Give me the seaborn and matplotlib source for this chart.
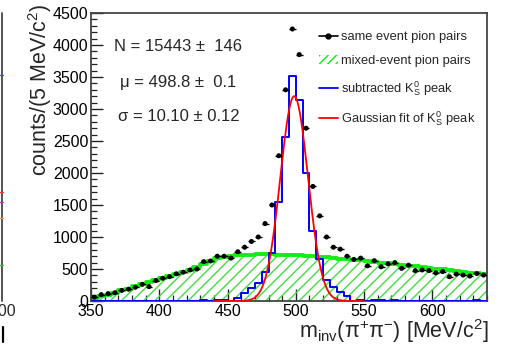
import numpy as np
import pandas as pd
import matplotlib
matplotlib.use("Agg")
import matplotlib.pyplot as plt
import seaborn as sns
from matplotlib.lines import Line2D
from matplotlib.patches import Patch
from matplotlib.ticker import MultipleLocator

# ---------------- data ----------------
bin_lo, bin_hi, bin_w = 350, 640, 5

same_event = [60, 100, 115, 130, 165, 185, 215, 260, 225, 320,
              355, 380, 425, 450, 485, 500, 615, 625, 700, 700,
              670, 770, 840, 930, 1000, 1210, 1500, 2270, 3300, 4250,
              3850, 2700, 1790, 1330, 1000, 840, 810, 700, 650, 670,
              550, 630, 535, 580, 600, 510, 560, 475, 485, 475,
              440, 460, 380, 420, 405, 390, 430, 405]

mixed_event = [45, 75, 100, 130, 165, 195, 230, 265, 295, 325,
               355, 385, 415, 450, 485, 530, 580, 630, 670, 695,
               705, 715, 720, 725, 728, 730, 728, 725, 722, 718,
               712, 705, 698, 690, 682, 673, 664, 655, 645, 635,
               624, 613, 600, 588, 577, 565, 553, 541, 529, 517,
               505, 493, 481, 469, 457, 445, 433, 421]

subtracted = [0, 0, 0, 0, 0, 0, 0, 0, 0, 0,
              0, 0, 0, 0, 0, 0, 15, 0, 20, 10,
              0, 45, 120, 200, 276, 458, 755, 1550, 2570, 3520,
              3140, 1995, 1100, 656, 328, 224, 146, 78, 0, 20,
              0, 20, 15, 0, 15, 0, 0, 0, 0, 0,
              0, 0, 0, 0, 0, 0, 15, 0]

fit_mu, fit_sigma, fit_peak = 498.8, 10.10, 3200
fit_lo, fit_hi = 440, 550

x_ticks = [350, 400, 450, 500, 550, 600]
y_ticks = [0, 500, 1000, 1500, 2000, 2500, 3000, 3500, 4000, 4500]

fit_texts = ["N = 15443 \u00b1  146", "\u03bc = 498.8 \u00b1  0.1", "\u03c3 = 10.10 \u00b1 0.12"]
legend_labels = ["same event pion pairs", "mixed-event pion pairs",
                 r"subtracted K$_{\rm S}^{0}$ peak", r"Gaussian fit of K$_{\rm S}^{0}$ peak"]

# ---------------- style ----------------
sns.set_theme(style="ticks")
plt.rcParams["font.family"] = ["Liberation Sans", "DejaVu Sans"]
plt.rcParams["mathtext.fontset"] = "custom"
plt.rcParams["mathtext.rm"] = "Liberation Sans"
plt.rcParams["mathtext.it"] = "Liberation Sans:italic"
plt.rcParams["mathtext.bf"] = "Liberation Sans:bold"
plt.rcParams["hatch.linewidth"] = 1.0

W, H = 512, 347
fig = plt.figure(figsize=(W / 100, H / 100), dpi=100)
ax = fig.add_axes([91 / W, 1 - 301 / H, (487 - 91) / W, (301 - 13) / H])

edges = np.arange(bin_lo, bin_hi + bin_w, bin_w)
centers = edges[:-1] + bin_w / 2
df = pd.DataFrame({"m": centers, "same": same_event,
                   "mixed": mixed_event, "sub": subtracted})

green_line = "#11ee11"
green_hatch = "#44dd44"

# mixed-event: hatched fill + thick top line
ax.stairs(df["mixed"].to_numpy(), edges, fill=True, facecolor="none",
          edgecolor=green_hatch, hatch="///", linewidth=0, zorder=1)
sns.histplot(data=df, x="m", weights="mixed", binwidth=bin_w,
             binrange=(bin_lo, bin_hi), element="step",
             fill=False, color=green_line, linewidth=2.8, ax=ax, zorder=2)

# subtracted peak
sns.histplot(data=df, x="m", weights="sub", binwidth=bin_w,
             binrange=(bin_lo, bin_hi), element="step",
             fill=False, color="#0000ff", linewidth=1.4, ax=ax, zorder=3)

# gaussian fit
xf = np.linspace(fit_lo, fit_hi, 400)
yf = fit_peak * np.exp(-0.5 * ((xf - fit_mu) / fit_sigma) ** 2)
sns.lineplot(x=xf, y=yf, color="#ff0000", linewidth=1.3, ax=ax, zorder=4)

# same-event points
ax.errorbar(df["m"], df["same"], xerr=bin_w / 2, fmt="none",
            ecolor="black", elinewidth=1.0, zorder=5)
sns.scatterplot(data=df, x="m", y="same", color="black", s=13,
                edgecolor="none", ax=ax, zorder=6)

# ---------------- axes ----------------
ax.set_xlim(bin_lo, bin_hi)
ax.set_ylim(0, 4500)
ax.set_xticks(x_ticks)
ax.set_yticks(y_ticks)
ax.xaxis.set_minor_locator(MultipleLocator(10))
ax.yaxis.set_minor_locator(MultipleLocator(100))
ax.tick_params(which="major", direction="in", length=8.5, width=1.0,
               labelsize=11.5, pad=2, color="#222222", labelcolor="black")
ax.tick_params(which="minor", direction="in", length=4.5, width=0.9,
               color="#222222")
ax.tick_params(top=False, right=False, which="both")
ax.set_xlabel("")
ax.set_ylabel("")
for s in ax.spines.values():
    s.set_visible(True)
    s.set_color("#444444")
    s.set_linewidth(1.3)

# axis titles (ROOT style, aligned to the ends)
fig.text(40 / W, 1 - 4 / H, "counts/(5 MeV/c$^{2}$)", rotation=90,
         ha="center", va="top", fontsize=15.5)
fig.text(489 / W, 1 - 338 / H,
         r"m$_{\rm inv}$($\mathrm{\pi}^{+}\mathrm{\pi}^{-}$) [MeV/c$^{2}$]",
         ha="right", va="baseline", fontsize=15.5)

# fit parameter texts
for t, yv in zip(fit_texts, [3970, 3420, 2890]):
    ax.text(414, yv, t, ha="center", va="center", fontsize=12)

# legend
handles = [
    Line2D([0], [0], color="black", marker="o", markersize=3.5, linewidth=1.2),
    Patch(facecolor="none", edgecolor=green_line, hatch="////", linewidth=0),
    Line2D([0], [0], color="#0000ff", linewidth=1.3),
    Line2D([0], [0], color="#ff0000", linewidth=1.3),
]
fig.legend(handles, legend_labels, loc="upper left",
           bbox_to_anchor=(319 / W, 1 - 31 / H), frameon=False,
           fontsize=9.3, handlelength=1.45, handletextpad=0.25,
           labelspacing=0.92, borderpad=0, borderaxespad=0)

# sliver of the neighbouring panel at the far left
fig.add_artist(Line2D([2 / W, 2 / W], [1 - 13 / H, 1 - 301 / H],
                      transform=fig.transFigure, color="#444444", lw=1.3))
for yy, cc in [(75, "#3355ff"), (192, "#ff3333"), (202, "#cc33cc"),
               (218, "#ee9933"), (265, "#33bb33")]:
    fig.add_artist(Line2D([0, 3 / W], [1 - yy / H, 1 - yy / H],
                          transform=fig.transFigure, color=cc, lw=1.0))
fig.text(16 / W, 1 - 312 / H, "600", ha="right", va="center", fontsize=11.5)
fig.add_artist(Line2D([3 / W, 3 / W], [1 - 327 / H, 1 - 342 / H],
                      transform=fig.transFigure, color="black", lw=1.6))

fig.savefig("out.png", dpi=100)
